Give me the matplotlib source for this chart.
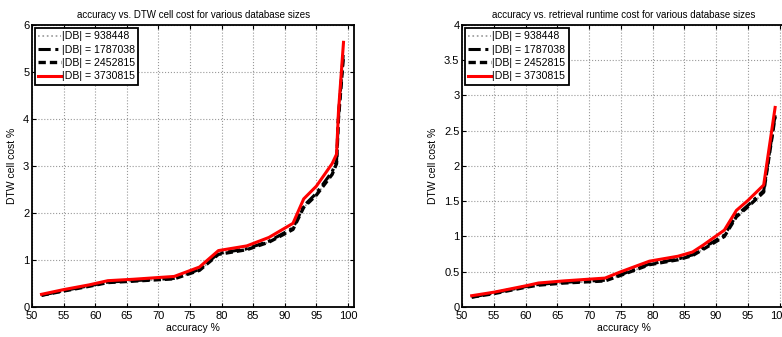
import numpy as np
import matplotlib
matplotlib.use('Agg')
import matplotlib.pyplot as plt

plt.rcParams['font.family'] = ['Liberation Sans', 'DejaVu Sans']

labels = ['|DB| = 938448', '|DB| = 1787038', '|DB| = 2452815', '|DB| = 3730815']

# left: accuracy vs DTW cell cost
acc_l = [51.5, 55, 59, 62, 66, 72.5, 76.5, 79.5, 84, 87.5, 91.3, 93, 95, 97.5, 98.2, 98.5, 99.3]
cell_938448 = [0.24, 0.34, 0.44, 0.52, 0.55, 0.60, 0.78, 1.12, 1.22, 1.38, 1.65, 2.12, 2.38, 2.82, 3.05, 4.0, 5.30]
cell_1787038 = [0.25, 0.35, 0.45, 0.53, 0.56, 0.61, 0.80, 1.14, 1.24, 1.40, 1.68, 2.15, 2.42, 2.88, 3.10, 4.05, 5.45]
cell_2452815 = [0.25, 0.34, 0.44, 0.52, 0.55, 0.60, 0.78, 1.12, 1.22, 1.38, 1.65, 2.12, 2.38, 2.82, 3.05, 4.0, 5.35]
cell_3730815 = [0.27, 0.37, 0.47, 0.56, 0.59, 0.65, 0.85, 1.20, 1.30, 1.48, 1.78, 2.30, 2.57, 3.05, 3.25, 4.15, 5.63]

# right: accuracy vs retrieval runtime cost
acc_r = [51.5, 55, 60, 62, 66, 72.5, 75, 79.5, 84, 86.3, 88, 91.3, 93.2, 95, 97.5, 99.3]
run_938448 = [0.14, 0.19, 0.28, 0.31, 0.34, 0.37, 0.45, 0.60, 0.67, 0.73, 0.82, 1.00, 1.27, 1.41, 1.62, 2.68]
run_1787038 = [0.14, 0.20, 0.29, 0.32, 0.35, 0.38, 0.46, 0.61, 0.68, 0.74, 0.84, 1.02, 1.30, 1.44, 1.65, 2.72]
run_2452815 = [0.14, 0.19, 0.28, 0.31, 0.34, 0.37, 0.45, 0.60, 0.67, 0.73, 0.82, 1.00, 1.28, 1.42, 1.63, 2.70]
run_3730815 = [0.16, 0.21, 0.30, 0.34, 0.37, 0.41, 0.50, 0.65, 0.72, 0.78, 0.88, 1.09, 1.37, 1.51, 1.73, 2.83]

styles = [
    dict(color='#999999', linestyle=':', linewidth=1.2),
    dict(color='black', linestyle=(0, (4, 1.5, 1, 1.5)), linewidth=2.2),
    dict(color='black', linestyle=(0, (2.2, 1.2)), linewidth=2.4),
    dict(color='red', linestyle='-', linewidth=2.2),
]


def panel(ax, x, series, ylim, yticks, title):
    for y, lab, st in zip(series, labels, styles):
        ax.plot(x, y, label=lab, **st)
    ax.set_xlim(50, 101)
    ax.set_ylim(*ylim)
    ax.set_xticks(range(50, 101, 5))
    ax.set_yticks(yticks)
    ax.set_yticklabels(['%g' % t for t in yticks])
    ax.grid(True, linestyle=':', color='#999999', linewidth=0.8)
    ax.tick_params(axis='both', direction='in', top=True, right=True, labelsize=8, length=3)
    ax.tick_params(axis='x', pad=3)
    ax.tick_params(axis='y', pad=2)
    for sp in ax.spines.values():
        sp.set_linewidth(1.3)
    ax.set_xlabel('accuracy %', fontsize=7.5, labelpad=1)
    ax.set_ylabel('DTW cell cost %', fontsize=7.5, labelpad=4)
    ax.set_title(title, fontsize=7, pad=5)
    leg = ax.legend(loc='upper left', fontsize=7.6, handlelength=2.1, handletextpad=0.15,
                    borderpad=0.3, labelspacing=0.32, borderaxespad=0.3, fancybox=False,
                    framealpha=1)
    leg.get_frame().set_edgecolor('black')
    leg.get_frame().set_linewidth(1.3)


fig = plt.figure(figsize=(7.82, 3.37), dpi=100)
ax1 = fig.add_axes([0.041, 0.089, 0.412, 0.837])
ax2 = fig.add_axes([0.591, 0.089, 0.414, 0.837])

panel(ax1, acc_l, [cell_938448, cell_1787038, cell_2452815, cell_3730815],
      (0, 6), [0, 1, 2, 3, 4, 5, 6],
      'accuracy vs. DTW cell cost for various database sizes')
panel(ax2, acc_r, [run_938448, run_1787038, run_2452815, run_3730815],
      (0, 4), [0, 0.5, 1, 1.5, 2, 2.5, 3, 3.5, 4],
      'accuracy vs. retrieval runtime cost for various database sizes')

fig.savefig('out.png', dpi=100)
